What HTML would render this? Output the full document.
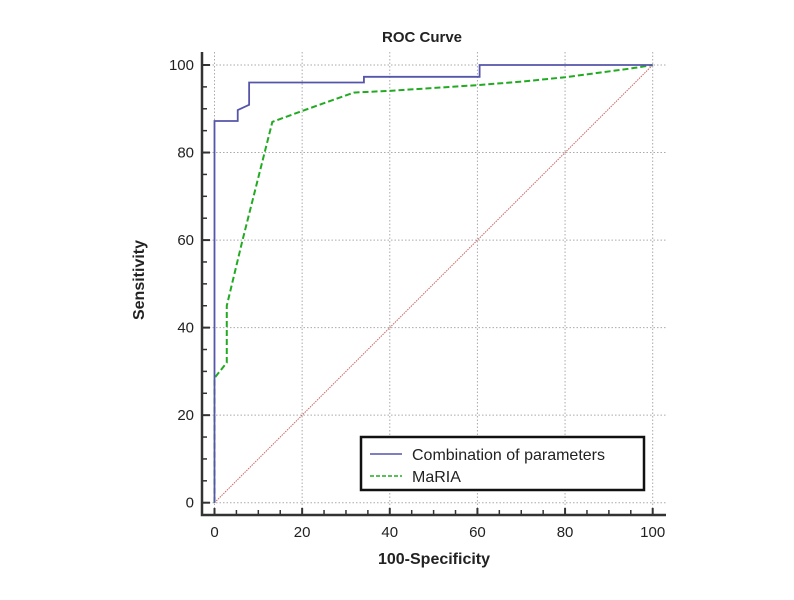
<!DOCTYPE html>
<html><head><meta charset="utf-8"><style>
body{margin:0;background:#fff;}
svg text{font-family:"Liberation Sans",Arial,sans-serif;fill:#222;}
</style></head><body>
<svg width="794" height="595" xmlns="http://www.w3.org/2000/svg">
<g id="grid"></g><g id="axes"></g><g id="series"></g>
<text x="422" y="42" text-anchor="middle" font-size="15" font-weight="bold">ROC Curve</text>
<text x="434" y="564" text-anchor="middle" font-size="16" font-weight="bold">100-Specificity</text>
<text transform="translate(144,280) rotate(-90)" text-anchor="middle" font-size="16" font-weight="bold">Sensitivity</text>
<g>
<rect x="361" y="437" width="283" height="53" fill="#fff" stroke="#111" stroke-width="2.5"/>
<line x1="370" y1="454" x2="402" y2="454" stroke="#5555aa" stroke-width="1.5"/>
<text x="412" y="460" font-size="16">Combination of parameters</text>
<line x1="370" y1="476" x2="402" y2="476" stroke="#22aa22" stroke-width="1.5" stroke-dasharray="4,2"/>
<text x="412" y="482" font-size="16">MaRIA</text>
</g>
</svg>
<script>
const xTicks=[0,20,40,60,80,100];
const yTicks=[0,20,40,60,80,100];
const comboX=[0,0,5.3,5.3,7.9,7.9,34.1,34.1,60.5,60.5,100];
const comboY=[0,87.2,87.2,89.7,90.9,96.0,96.0,97.3,97.3,100,100];
const mariaX=[0,0,2.8,2.8,6.4,13.2,20,31.8,40,60,70,80,95,100];
const mariaY=[0,28.5,32,45,60,87,89.5,93.7,94.1,95.4,96.2,97.2,99.2,100];
const refX=[0,100];
const refY=[0,100];
const NS="http://www.w3.org/2000/svg";
const sx=v=>214.5+v*4.382;
const sy=v=>502.7-v*4.377;
function mk(tag,attrs,parent){const e=document.createElementNS(NS,tag);for(const k in attrs)e.setAttribute(k,attrs[k]);document.getElementById(parent).appendChild(e);return e;}
xTicks.forEach(t=>{
 const g=mk('line',{x1:sx(t),x2:sx(t),y1:52,y2:515,stroke:'#aaa','stroke-dasharray':'1.5,2'},'grid');
 
 
 const tk=mk('line',{x1:sx(t),x2:sx(t),y1:508,y2:515,stroke:'#333','stroke-width':2},'axes');
 
 
 const tx=mk('text',{x:sx(t),y:537,'text-anchor':'middle','font-size':15},'axes');
 tx.textContent=t;
 
 
});
yTicks.forEach(t=>{
 const g=mk('line',{x1:202,x2:666,y1:sy(t),y2:sy(t),stroke:'#aaa','stroke-dasharray':'1.5,2'},'grid');
 
 
 const tk=mk('line',{x1:202,x2:210,y1:sy(t),y2:sy(t),stroke:'#333','stroke-width':2},'axes');
 
 
 const tx=mk('text',{x:194,y:sy(t)+5,'text-anchor':'end','font-size':15},'axes');
 tx.textContent=t;
 
 
});
for(let t=5;t<100;t+=5){
 if(t%20===0)continue;
 const a=mk('line',{x1:sx(t),x2:sx(t),y1:510,y2:515,stroke:'#333','stroke-width':1.5},'axes');
 
 
 const b=mk('line',{x1:202,x2:207,y1:sy(t),y2:sy(t),stroke:'#333','stroke-width':1.5},'axes');
 
 
}
const ax=mk('path',{d:'M202,52 L202,515 L666,515',fill:'none',stroke:'#333','stroke-width':2.5},'axes');


function pts(X,Y){return X.map((x,i)=>sx(x)+','+sy(Y[i])).join(' ');}
const r=mk('polyline',{points:pts(refX,refY),fill:'none',stroke:'#cc6666','stroke-width':1,'stroke-dasharray':'1.5,1'},'series');


const m=mk('polyline',{points:pts(mariaX,mariaY),fill:'none',stroke:'#22aa22','stroke-width':2,'stroke-dasharray':'6,3'},'series');


const c=mk('polyline',{points:pts(comboX,comboY),fill:'none',stroke:'#5555aa','stroke-width':1.8},'series');


</script>
</body></html>
